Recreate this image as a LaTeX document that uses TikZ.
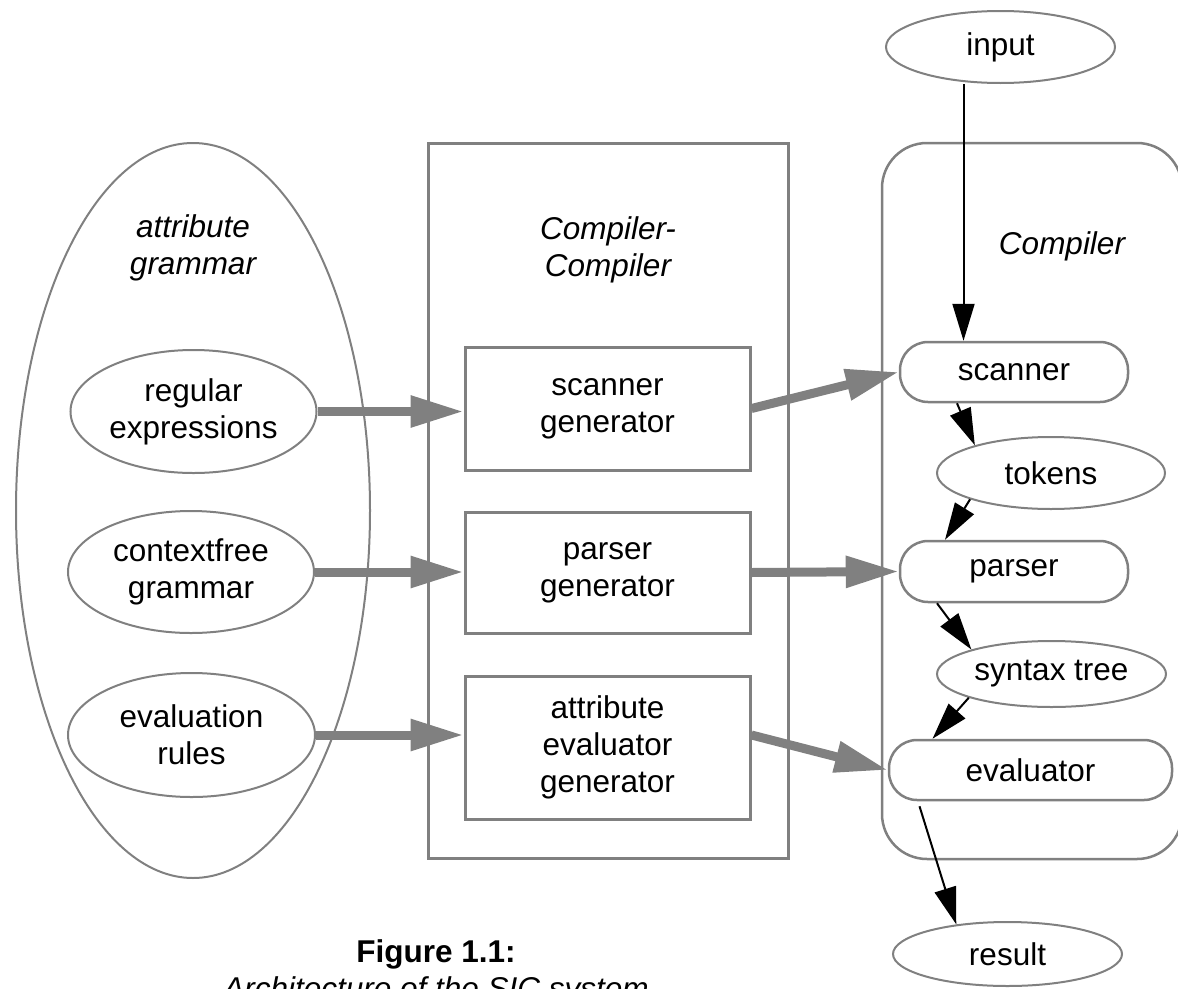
\documentclass[tikz,border=0pt]{standalone}
\usepackage{fontspec}
\setmainfont{Liberation Sans}
\usetikzlibrary{arrows.meta,shapes.geometric,calc}
\definecolor{lg}{HTML}{808080}
\begin{document}
\begin{tikzpicture}[x=1pt,y=-1pt,
  base/.style={font=\fontsize{31.5}{37}\selectfont, align=center, inner sep=0pt, text=black},
  oval/.style={base, ellipse, draw=lg, line width=2pt},
  genbox/.style={base, rectangle, draw=lg, line width=3pt, minimum width=285pt},
  pill/.style={base, rectangle, rounded corners=28pt, draw=lg, line width=2.5pt, minimum height=60pt},
  itxt/.style={base, font=\fontsize{31.5}{37}\selectfont\itshape},
  thinarr/.style={draw=black, line width=2pt, -{Triangle[length=37pt,width=22pt]}},
  thickarr/.style={draw=lg, line width=9pt, -{Triangle[length=53pt,width=30pt]}}]
\useasboundingbox (0,0) rectangle (1178,988);
\clip (0,0) rectangle (1178,988);

% containers
\node[oval, minimum width=354pt, minimum height=735pt] (ag) at (193,510.5) {};
\node[base, rectangle, draw=lg, line width=3pt, minimum width=360pt, minimum height=715pt] (cc) at (608,500.5) {};
\node[base, rectangle, rounded corners=45pt, draw=lg, line width=2.5pt, minimum width=300pt, minimum height=716pt] (comp) at (1032,501) {};

\node[itxt] (agtext) at (193,248) {attribute\\grammar};
\node[itxt] (cctext) at (608,250) {Compiler-\\Compiler};
\node[itxt] (comptext) at (1062,246) {Compiler};

% left ellipses
\node[oval, minimum width=246pt, minimum height=123pt] (regex) at (193.5,411.5) {regular\\expressions};
\node[oval, minimum width=246pt, minimum height=122pt] (cfg) at (191,572) {contextfree\\grammar};
\node[oval, minimum width=247pt, minimum height=124pt] (evr) at (191.5,735) {evaluation\\rules};

% generators
\node[genbox, minimum height=123pt] (sgen) at (607.5,408.5) {scanner\\generator};
\node[genbox, minimum height=121pt] (pgen) at (607.5,572.5) {parser\\generator};
\node[genbox, minimum height=143pt] (aeg) at (607.5,747.5) {attribute\\evaluator\\generator};

% compiler parts
\node[oval, minimum width=229pt, minimum height=72pt] (input) at (1000.5,47) {input};
\node[pill, minimum width=228pt] (scanner) at (1014,372) {scanner};
\node[oval, minimum width=228pt, minimum height=72pt] (tokens) at (1051,473) {tokens};
\node[pill, minimum width=228pt, minimum height=61pt] (parser) at (1014,571.5) {parser};
\node[oval, minimum width=229pt, minimum height=66pt] (syntax) at (1051.5,674) {syntax tree};
\node[pill, minimum width=283pt] (evaluator) at (1030.5,770) {evaluator};
\node[oval, minimum width=229pt, minimum height=64pt] (result) at (1007.5,954) {result};

% caption
\node[base, anchor=base, font=\fontsize{31.5}{37}\selectfont\bfseries] (fig) at (436,962) {Figure 1.1:};
\node[itxt, anchor=base] (figsub) at (436,999) {Architecture of the SIC system};

% thick gray arrows
\draw[thickarr] (regex.east) -- (regex.east -| sgen.west);
\draw[thickarr] (cfg.east) -- (cfg.east -| pgen.west);
\draw[thickarr] (evr.east) -- (evr.east -| aeg.west);
\draw[thickarr] (sgen.east) -- (scanner.west);
\draw[thickarr] (pgen.east) -- (parser.west);
\draw[thickarr] (aeg.east |- evr.east) -- (evaluator.west);

% thin black arrows
\draw[thinarr] ([xshift=-37pt]input.south) -- ([xshift=-37pt]input.south |- scanner.north);
\draw[thinarr] ([xshift=-57pt]scanner.south) -- (tokens.160);
\draw[thinarr] (tokens.198) -- ([xshift=-69pt]parser.north);
\draw[thinarr] ([xshift=-77pt]parser.south) -- (syntax.163);
\draw[thinarr] (syntax.196) -- ([xshift=-98pt]evaluator.north);
\draw[thinarr] ([xshift=-111pt,yshift=-5pt]evaluator.south) -- (result.150);
\end{tikzpicture}
\end{document}
